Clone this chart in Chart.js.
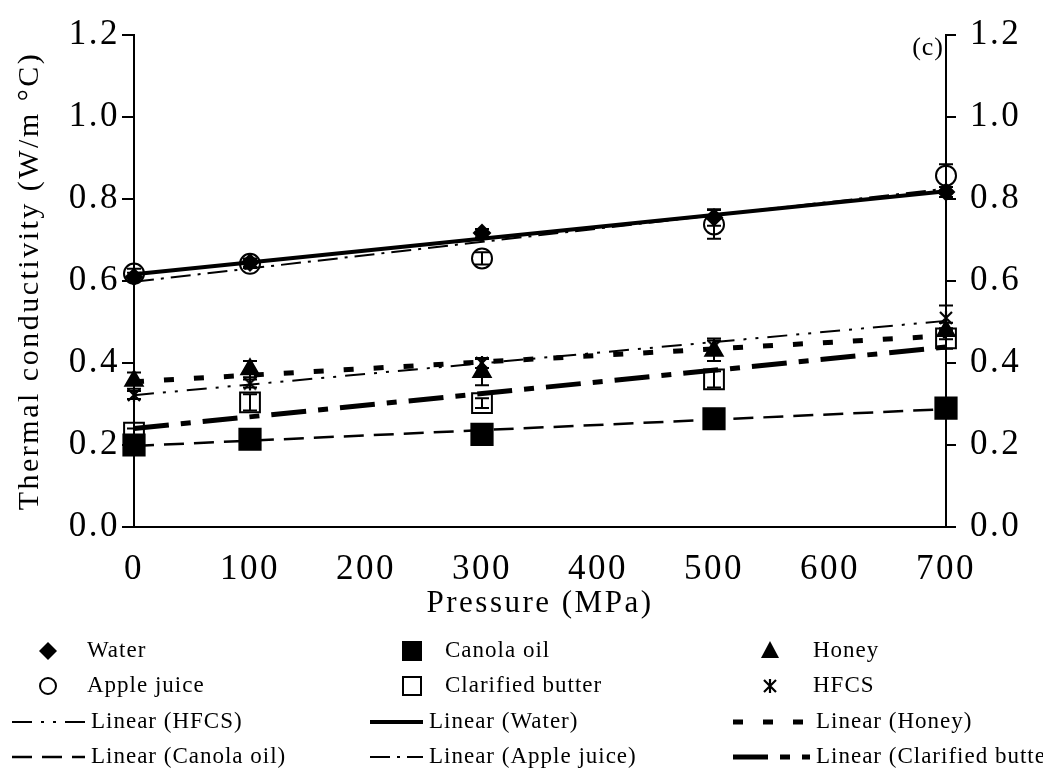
<!DOCTYPE html>
<html>
<head>
<meta charset="utf-8">
<script src="https://cdn.jsdelivr.net/npm/chart.js@4.4.0/dist/chart.umd.min.js"></script>
<style>
  html, body { margin: 0; padding: 0; background: #fff; }
  #wrap { width: 1043px; height: 776px; position: relative; }
</style>
</head>
<body>
<div id="wrap"><canvas id="myChart" width="1043" height="776"></canvas></div>
<script>
// pressure levels (MPa)
var pressure = [0, 100, 300, 500, 700];

// thermal conductivity (W/m oC) and error bars
var water = [0.61, 0.645, 0.717, 0.755, 0.817];
var waterErr = [0.01, 0.01, 0.01, 0.02, 0.012];
var canola = [0.2, 0.214, 0.226, 0.264, 0.29];
var canolaErr = [0.01, 0.01, 0.01, 0.01, 0.01];
var honey = [0.357, 0.385, 0.378, 0.43, 0.478];
var honeyErr = [0.02, 0.02, 0.032, 0.025, 0.02];
var apple = [0.618, 0.642, 0.655, 0.738, 0.857];
var appleErr = [0.012, 0.01, 0.015, 0.035, 0.028];
var butter = [0.23, 0.304, 0.302, 0.36, 0.46];
var butterErr = [0.01, 0.02, 0.012, 0.02, 0.025];
var hfcs = [0.322, 0.35, 0.4, 0.44, 0.51];
var hfcsErr = [0.01, 0.01, 0.012, 0.02, 0.03];

var yTicks = [0, 0.2, 0.4, 0.6, 0.8, 1.0, 1.2];
var xTicks = [0, 100, 200, 300, 400, 500, 600, 700];

var serif = "'Liberation Serif', 'Times New Roman', serif";

function points(vals) {
  var out = [];
  for (var i = 0; i < pressure.length; i++) {
    out.push({ x: pressure[i], y: vals[i] });
  }
  return out;
}

// least squares line, like the Excel "Linear" trendline
function trend(vals) {
  var n = pressure.length, mx = 0, my = 0;
  for (var i = 0; i < n; i++) { mx += pressure[i]; my += vals[i]; }
  mx /= n; my /= n;
  var sxy = 0, sxx = 0;
  for (var j = 0; j < n; j++) {
    sxy += (pressure[j] - mx) * (vals[j] - my);
    sxx += (pressure[j] - mx) * (pressure[j] - mx);
  }
  var b = sxy / sxx, a = my - b * mx;
  var x0 = pressure[0], x1 = pressure[n - 1];
  return [{ x: x0, y: a + b * x0 }, { x: x1, y: a + b * x1 }];
}

function makeAsterisk(size) {
  var c = document.createElement('canvas');
  c.width = size; c.height = size;
  var g = c.getContext('2d');
  g.strokeStyle = '#000';
  g.lineWidth = 2.2;
  g.beginPath();
  g.moveTo(2, 2); g.lineTo(size - 2, size - 2);
  g.moveTo(size - 2, 2); g.lineTo(2, size - 2);
  g.moveTo(size / 2, 1); g.lineTo(size / 2, size - 1);
  g.stroke();
  return c;
}
var asterisk = makeAsterisk(16);

function series(label, vals, errs, style, radius, filled) {
  return {
    label: label,
    data: points(vals),
    errors: errs,
    showLine: false,
    clip: false,
    pointStyle: style,
    pointRadius: radius,
    pointHoverRadius: radius,
    pointBorderWidth: 2,
    pointBorderColor: '#000',
    pointBackgroundColor: filled ? '#000' : 'rgba(0,0,0,0)',
    borderColor: '#000',
    backgroundColor: '#000',
    yAxisID: 'y'
  };
}

function trendSet(label, vals, width, dash) {
  return {
    label: label,
    data: trend(vals),
    showLine: true,
    clip: false,
    pointRadius: 0,
    borderColor: '#000',
    borderWidth: width,
    borderDash: dash,
    borderCapStyle: 'butt',
    fill: false,
    yAxisID: 'y'
  };
}

var datasets = [
  series('Water', water, waterErr, 'rectRot', 8, true),
  series('Canola oil', canola, canolaErr, 'rect', 15, true),
  series('Honey', honey, honeyErr, 'triangle', 10, true),
  series('Apple juice', apple, appleErr, 'circle', 10, false),
  series('Clarified butter', butter, butterErr, 'rect', 14, false),
  series('HFCS', hfcs, hfcsErr, asterisk, 8, false),
  trendSet('Linear (HFCS)', hfcs, 2, [20, 9, 3, 9, 3, 9]),
  trendSet('Linear (Water)', water, 4, []),
  trendSet('Linear (Honey)', honey, 5, [10, 20]),
  trendSet('Linear (Canola oil)', canola, 2.5, [20, 10]),
  trendSet('Linear (Apple juice)', apple, 2, [20, 7, 3, 7]),
  trendSet('Linear (Clarified butter)', butter, 5, [35, 12, 10, 12])
];

// the original text is a little spread out
var spacing = {
  id: 'spacing',
  beforeDraw: function(chart) { chart.ctx.letterSpacing = '2.5px'; }
};

var errorBars = {
  id: 'errorBars',
  afterDatasetsDraw: function(chart) {
    var ctx = chart.ctx, xs = chart.scales.x, ys = chart.scales.y;
    ctx.save();
    ctx.strokeStyle = '#000';
    ctx.lineWidth = 2;
    chart.data.datasets.forEach(function(ds) {
      if (!ds.errors) return;
      ds.data.forEach(function(p, i) {
        var x = xs.getPixelForValue(p.x);
        var yt = ys.getPixelForValue(p.y + ds.errors[i]);
        var yb = ys.getPixelForValue(p.y - ds.errors[i]);
        ctx.beginPath();
        ctx.moveTo(x, yt); ctx.lineTo(x, yb);
        ctx.moveTo(x - 7, yt); ctx.lineTo(x + 7, yt);
        ctx.moveTo(x - 7, yb); ctx.lineTo(x + 7, yb);
        ctx.stroke();
      });
    });
    ctx.restore();
  }
};

function drawMarker(ctx, ds, x, y) {
  var s = ds.pointStyle;
  ctx.save();
  ctx.strokeStyle = '#000';
  ctx.fillStyle = '#000';
  ctx.lineWidth = 2;
  if (s === 'rectRot') {
    ctx.beginPath();
    ctx.moveTo(x, y - 9); ctx.lineTo(x + 9, y); ctx.lineTo(x, y + 9); ctx.lineTo(x - 9, y);
    ctx.closePath(); ctx.fill();
  } else if (s === 'rect') {
    if (ds.pointBackgroundColor === '#000') ctx.fillRect(x - 10, y - 10, 20, 20);
    else ctx.strokeRect(x - 9, y - 9, 18, 18);
  } else if (s === 'triangle') {
    ctx.beginPath();
    ctx.moveTo(x, y - 10); ctx.lineTo(x + 9, y + 7); ctx.lineTo(x - 9, y + 7);
    ctx.closePath(); ctx.fill();
  } else if (s === 'circle') {
    ctx.beginPath(); ctx.arc(x, y, 8, 0, Math.PI * 2); ctx.stroke();
  } else {
    ctx.drawImage(s, x - 8, y - 8);
  }
  ctx.restore();
}

// legend laid out as three columns, like the original
var legendCols = [[12, 85, 48, 87], [370, 423, 412, 445], [733, 810, 770, 813]];
var legendRows = [651, 686, 722, 757];

var gridLegend = {
  id: 'gridLegend',
  afterDraw: function(chart) {
    var ctx = chart.ctx;
    ctx.save();
    ctx.letterSpacing = '1px';
    ctx.font = '23px ' + serif;
    ctx.fillStyle = '#000';
    ctx.textBaseline = 'middle';
    chart.data.datasets.forEach(function(ds, i) {
      var col = legendCols[i % 3], y = legendRows[Math.floor(i / 3)];
      if (ds.showLine) {
        ctx.save();
        ctx.strokeStyle = '#000';
        ctx.lineWidth = ds.borderWidth;
        ctx.setLineDash(ds.borderDash);
        ctx.beginPath(); ctx.moveTo(col[0], y); ctx.lineTo(col[1], y); ctx.stroke();
        ctx.restore();
        ctx.fillText(ds.label, col[1] + 6, y);
      } else {
        drawMarker(ctx, ds, col[2], y);
        ctx.fillText(ds.label, col[3], y);
      }
    });
    // panel letter and stray mark
    ctx.font = '26px ' + serif;
    ctx.textAlign = 'right';
    ctx.fillText('(c)', 944, 48);
    ctx.font = '14px ' + serif;
    ctx.fillText('.', 40, 56);
    ctx.restore();
  }
};

var ctx = document.getElementById('myChart').getContext('2d');
var chart = new Chart(ctx, {
  type: 'scatter',
  data: { datasets: datasets },
  options: {
    responsive: false,
    animation: false,
    devicePixelRatio: 1,
    layout: { padding: { top: 22, bottom: 154, left: 0, right: 0 } },
    plugins: {
      legend: { display: false },
      tooltip: { enabled: false }
    },
    scales: {
      x: {
        type: 'linear',
        min: 0, max: 700,
        afterFit: function(s) { s.height = 95; },
        afterBuildTicks: function(s) { s.ticks = xTicks.map(function(v) { return { value: v }; }); },
        grid: { drawOnChartArea: false, drawTicks: false, color: '#000', lineWidth: 2 },
        border: { display: true, color: '#000', width: 2 },
        ticks: { color: '#000', font: { family: serif, size: 35 }, padding: 22, maxRotation: 0 },
        title: { display: true, text: 'Pressure (MPa)', color: '#000', font: { family: serif, size: 31 }, padding: { top: 0, bottom: 0 } }
      },
      y: {
        position: 'left',
        min: 0, max: 1.2,
        afterFit: function(s) { s.width = 134; },
        afterBuildTicks: function(s) { s.ticks = yTicks.map(function(v) { return { value: v }; }); },
        grid: { drawOnChartArea: false, drawTicks: true, tickLength: 12, color: '#000', lineWidth: 2 },
        border: { display: true, color: '#000', width: 2 },
        ticks: { color: '#000', font: { family: serif, size: 35 }, padding: 2, callback: function(v) { return v.toFixed(1); } },
        title: { display: true, text: 'Thermal conductivity (W/m \u00B0C)', color: '#000', font: { family: serif, size: 30 }, padding: { top: 12, bottom: 0 } }
      },
      y2: {
        position: 'right',
        min: 0, max: 1.2,
        afterFit: function(s) { s.width = 97; },
        afterBuildTicks: function(s) { s.ticks = yTicks.map(function(v) { return { value: v }; }); },
        grid: { drawOnChartArea: false, drawTicks: true, tickLength: 10, color: '#000', lineWidth: 2 },
        border: { display: true, color: '#000', width: 2 },
        ticks: { color: '#000', font: { family: serif, size: 35 }, padding: 14, callback: function(v) { return v.toFixed(1); } }
      }
    }
  },
  plugins: [spacing, errorBars, gridLegend]
});
</script>
</body>
</html>
